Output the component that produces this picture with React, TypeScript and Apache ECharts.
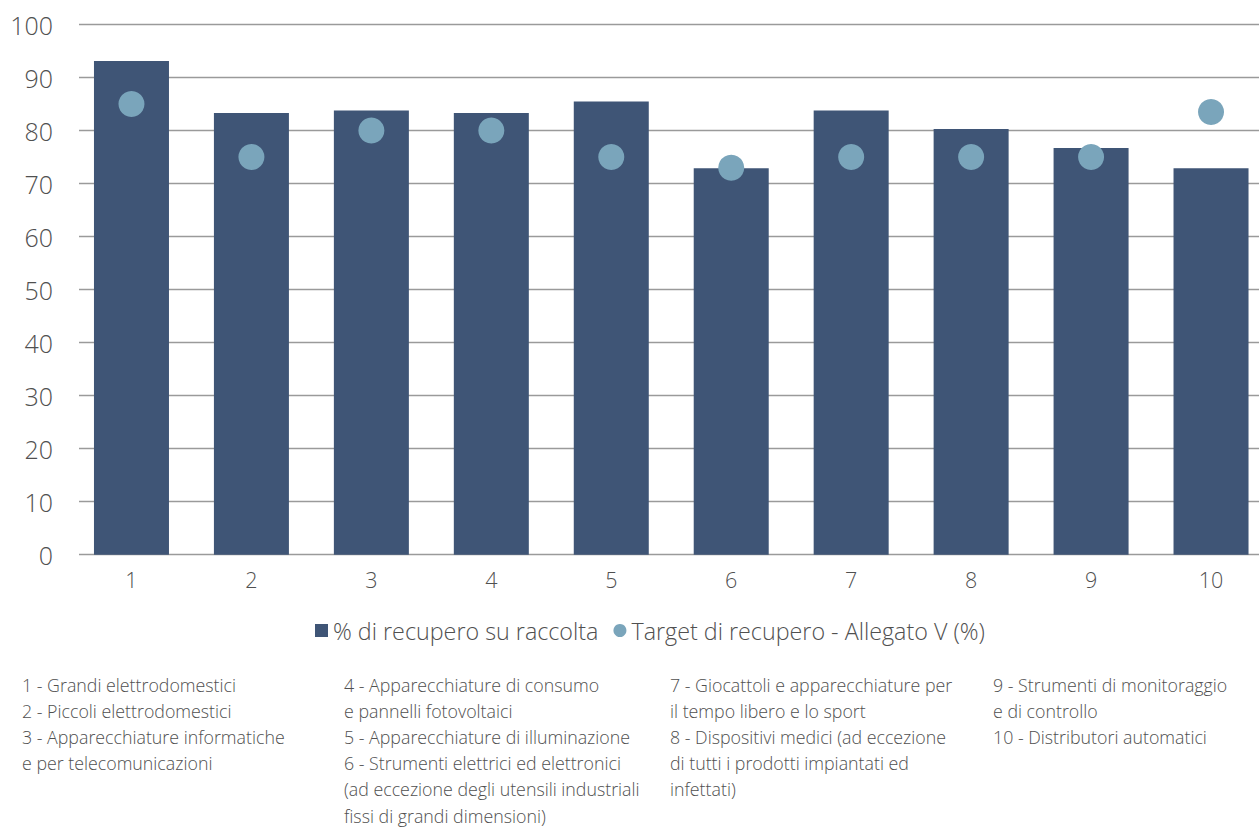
import React, { useEffect, useRef } from "react";
import * as echarts from "echarts";

const categories = ["1", "2", "3", "4", "5", "6", "7", "8", "9", "10"];
const recoveryValues = [93.1, 83.3, 83.8, 83.3, 85.5, 72.9, 83.8, 80.3, 76.7, 72.9];
const targetValues = [85, 75, 80, 80, 75, 73, 75, 75, 75, 83.5];
const seriesNames = ["% di recupero su raccolta", "Target di recupero - Allegato V (%)"];

const noteColumns: string[][] = [
  [
    "1 - Grandi elettrodomestici",
    "2 - Piccoli elettrodomestici",
    "3 - Apparecchiature informatiche",
    "e per telecomunicazioni",
  ],
  [
    "4 - Apparecchiature di consumo",
    "e pannelli fotovoltaici",
    "5 - Apparecchiature di illuminazione",
    "6 - Strumenti elettrici ed elettronici",
    "(ad eccezione degli utensili industriali",
    "fissi di grandi dimensioni)",
  ],
  [
    "7 - Giocattoli e apparecchiature per",
    "il tempo libero e lo sport",
    "8 - Dispositivi medici (ad eccezione",
    "di tutti i prodotti impiantati ed",
    "infettati)",
  ],
  [
    "9 - Strumenti di monitoraggio",
    "e di controllo",
    "10 - Distributori automatici",
  ],
];

const FONT = "'Open Sans', 'Noto Sans', sans-serif";
const TEXT = "#505050";
const BAR = "#3f5576";
const DOT = "#7aa5bb";

export default function App() {
  const ref = useRef<HTMLDivElement>(null);

  useEffect(() => {
    if (!ref.current) return;
    const chart = echarts.init(ref.current, undefined, { renderer: "svg" });
    const colX = [22, 344, 670, 993];
    const lineH = 26.2;
    const notes: any[] = [];
    noteColumns.forEach((col, ci) => {
      col.forEach((line, li) => {
        notes.push({
          type: "text",
          left: colX[ci],
          top: 675.5 + li * lineH,
          style: {
            text: line,
            fill: TEXT,
            font: `300 17.8px ${FONT}`,
          },
        });
      });
    });

    chart.setOption({
      animation: false,
      backgroundColor: "#ffffff",
      textStyle: { fontFamily: FONT },
      grid: [
        { left: 79, right: 0, top: 24.5, bottom: 272.3, outerBoundsMode: "none" },
        { left: 71.5, right: -12, top: 24.5, bottom: 272.3, outerBoundsMode: "none" },
      ],
      xAxis: [
        { type: "category", gridIndex: 0, data: categories, show: false },
        {
          type: "category",
          gridIndex: 1,
          data: categories,
          axisLine: { show: false },
          axisTick: { show: false },
          axisLabel: { color: TEXT, fontSize: 21.5, fontWeight: 300, fontFamily: FONT, margin: 14 },
        },
      ],
      yAxis: [
        {
          type: "value",
          gridIndex: 0,
          min: 0,
          max: 100,
          interval: 10,
          axisLine: { show: false },
          axisTick: { show: false },
          axisLabel: { color: TEXT, fontSize: 25, fontWeight: 300, fontFamily: FONT, margin: 26 },
          splitLine: { lineStyle: { color: "#9a9a9a", width: 1.3 } },
        },
        { type: "value", gridIndex: 1, min: 0, max: 100, show: false },
      ],
      legend: {
        left: 310,
        top: 614,
        itemWidth: 13,
        itemHeight: 13,
        itemGap: 15,
        textStyle: { color: TEXT, fontSize: 23.3, fontWeight: 300, fontFamily: FONT },
        data: [
          { name: seriesNames[0], icon: "rect" },
          { name: seriesNames[1], icon: "circle" },
        ],
      },
      series: [
        {
          name: seriesNames[0],
          type: "bar",
          xAxisIndex: 1,
          yAxisIndex: 1,
          data: recoveryValues,
          barWidth: 75,
          itemStyle: { color: BAR },
        },
        {
          name: seriesNames[1],
          type: "scatter",
          xAxisIndex: 1,
          yAxisIndex: 1,
          data: targetValues,
          symbolSize: 26,
          itemStyle: { color: DOT, opacity: 1 },
          z: 3,
        },
      ],
      graphic: notes,
    });
    return () => chart.dispose();
  }, []);

  return (
    <div
      ref={ref}
      style={{ position: "fixed", left: 0, top: 0, width: 1259, height: 827 }}
    />
  );
}
